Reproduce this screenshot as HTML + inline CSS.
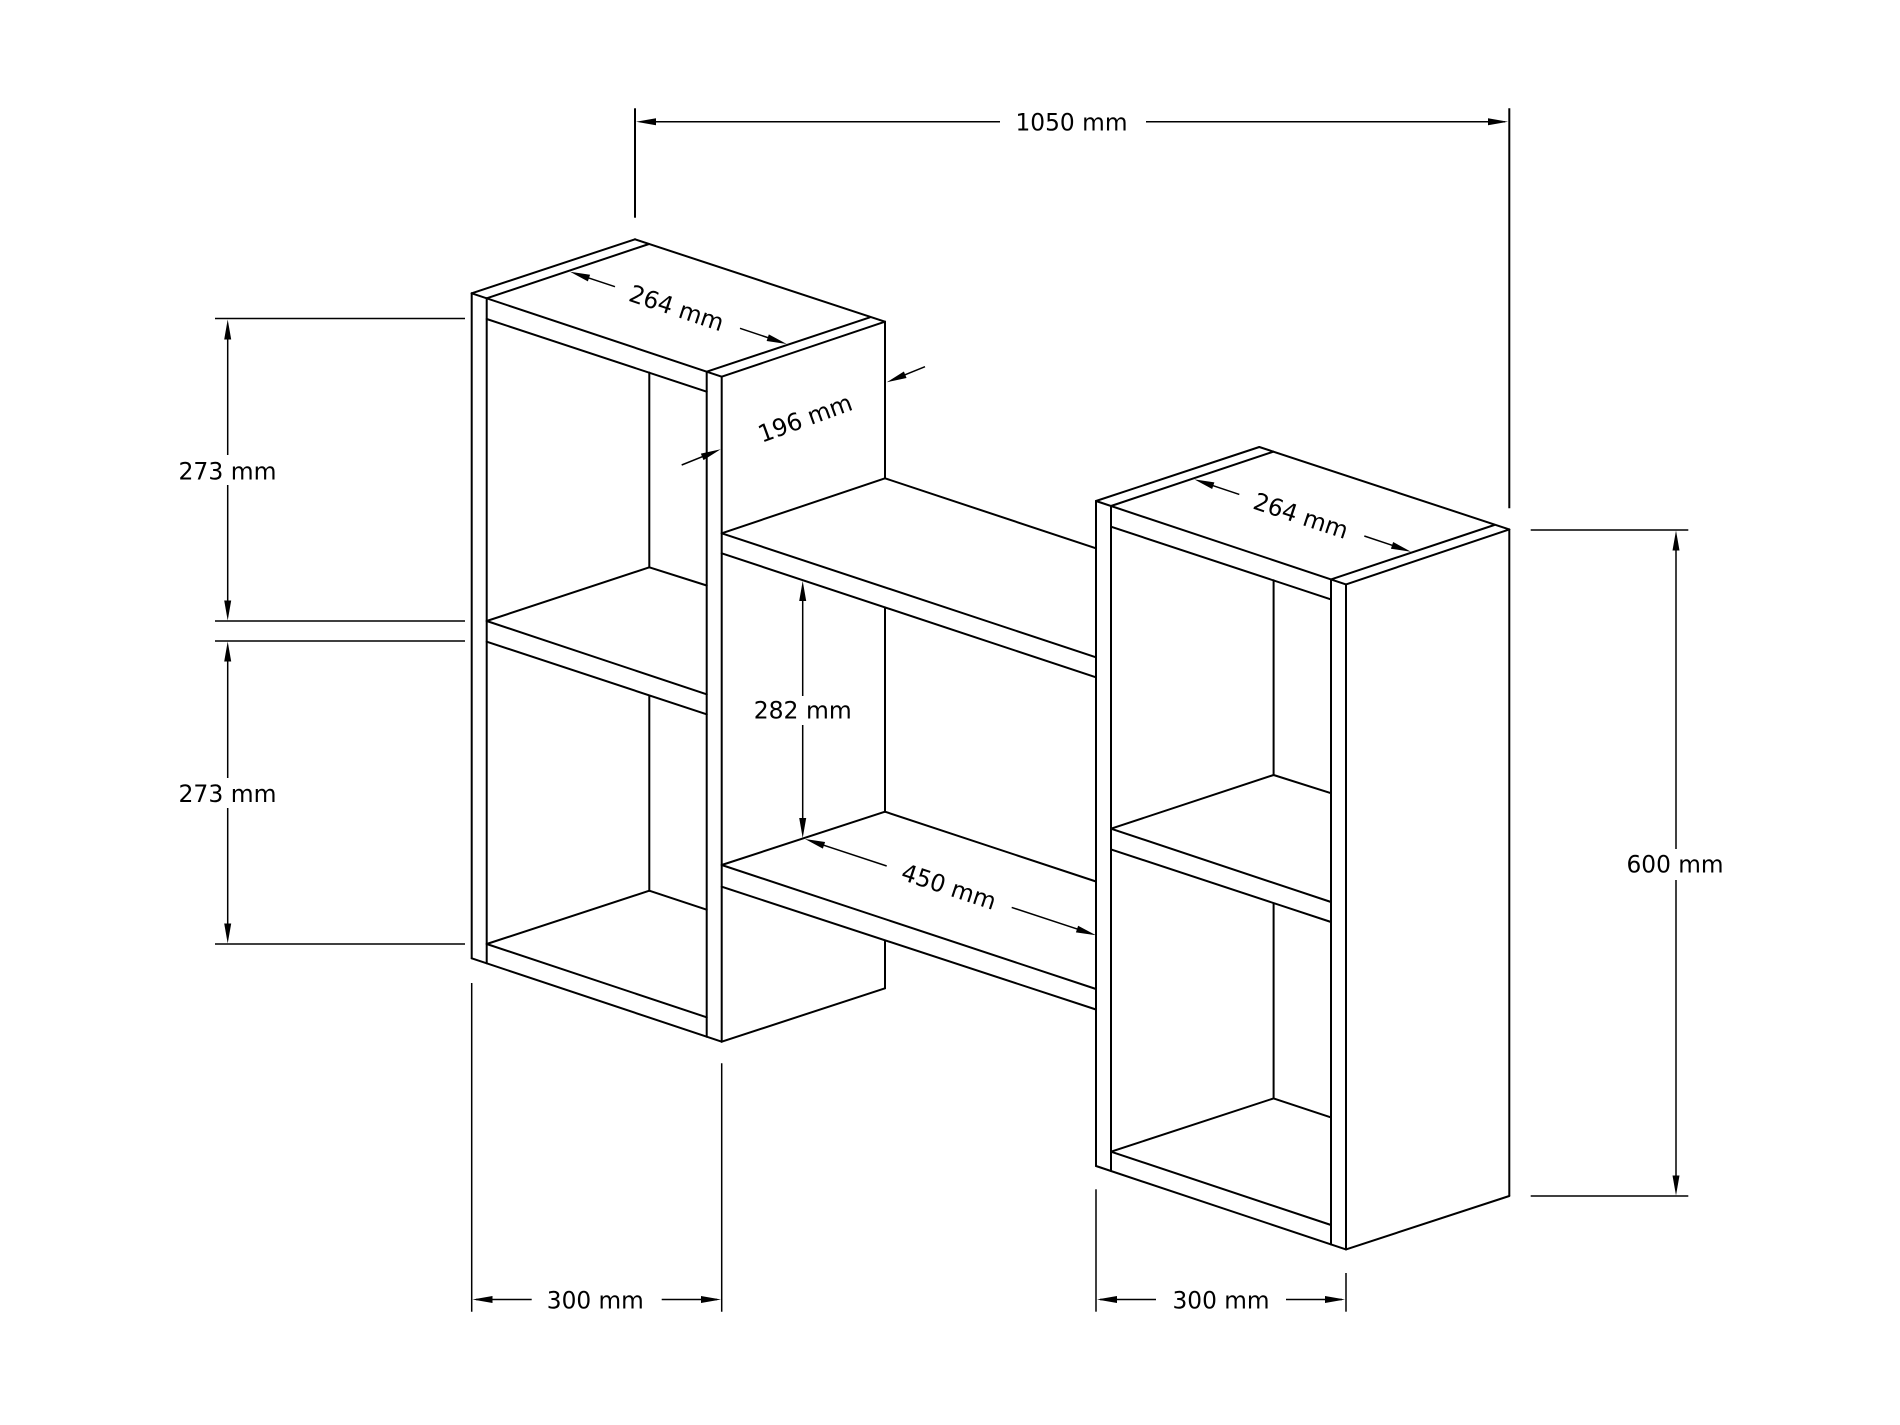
<!DOCTYPE html>
<html>
<head>
<meta charset="utf-8">
<style>
  html, body { margin: 0; padding: 0; background: #ffffff; }
  svg { display: block; }
  text { font-family: "DejaVu Sans", "Liberation Sans", sans-serif; font-size: 24px; fill: #000; }
</style>
</head>
<body>
<svg width="1900" height="1425" viewBox="0 0 1900 1425" xmlns="http://www.w3.org/2000/svg">
  <rect width="1900" height="1425" fill="#fff"/>
  <defs>
    <g id="cab" stroke="#000" stroke-width="2" fill="none" stroke-linecap="round">
      <!-- top -->
      <line x1="471.7" y1="293.3" x2="635" y2="239.3"/>
      <line x1="635" y1="239.3" x2="885" y2="321.7"/>
      <line x1="885" y1="321.7" x2="721.7" y2="376.7"/>
      <line x1="471.7" y1="293.3" x2="721.7" y2="376.7"/>
      <line x1="486.7" y1="298.3" x2="649" y2="244"/>
      <line x1="706.7" y1="371.7" x2="870" y2="317.3"/>
      <!-- verticals -->
      <line x1="471.7" y1="293.3" x2="471.7" y2="958.3"/>
      <line x1="486.7" y1="298.3" x2="486.7" y2="963.3"/>
      <line x1="706.7" y1="371.7" x2="706.7" y2="1036.7"/>
      <line x1="721.7" y1="376.7" x2="721.7" y2="1041.7"/>
      <!-- bottom -->
      <line x1="471.7" y1="958.3" x2="721.7" y2="1041.7"/>
      <line x1="721.7" y1="1041.7" x2="885" y2="988.3"/>
      <!-- interior -->
      <line x1="486.7" y1="319" x2="706.7" y2="391.7"/>
      <line x1="649.3" y1="372.6" x2="649.3" y2="567.3"/>
      <line x1="486.7" y1="621" x2="706.7" y2="694.3"/>
      <line x1="486.7" y1="641.7" x2="706.7" y2="714.3"/>
      <line x1="486.7" y1="621" x2="649.3" y2="567.3"/>
      <line x1="649.3" y1="567.3" x2="706.7" y2="585.5"/>
      <line x1="649.3" y1="695.9" x2="649.3" y2="890.7"/>
      <line x1="486.7" y1="944" x2="706.7" y2="1017.3"/>
      <line x1="486.7" y1="944" x2="649.3" y2="890.7"/>
      <line x1="649.3" y1="890.7" x2="706.7" y2="909.7"/>
    </g>
  </defs>

  <!-- left cabinet -->
  <use href="#cab"/>
  <g stroke="#000" stroke-width="2" fill="none" stroke-linecap="round">
    <line x1="885" y1="321.7" x2="885" y2="478.3"/>
    <line x1="885" y1="607.5" x2="885" y2="811.7"/>
    <line x1="885" y1="941.4" x2="885" y2="988.3"/>
  </g>

  <!-- right cabinet -->
  <use href="#cab" transform="translate(624.3,207.7)"/>
  <line x1="1509.3" y1="529.4" x2="1509.3" y2="1196" stroke="#000" stroke-width="2"/>

  <!-- connecting shelves -->
  <g stroke="#000" stroke-width="2" fill="none" stroke-linecap="round">
    <line x1="721.7" y1="533.3" x2="885" y2="478.3"/>
    <line x1="885" y1="478.3" x2="1096" y2="548.3"/>
    <line x1="721.7" y1="533.3" x2="1096" y2="657.3"/>
    <line x1="721.7" y1="553.3" x2="1096" y2="677.3"/>
    <line x1="721.7" y1="865" x2="885" y2="811.7"/>
    <line x1="885" y1="811.7" x2="1096" y2="881.5"/>
    <line x1="721.7" y1="865" x2="1096" y2="989"/>
    <line x1="721.7" y1="886.7" x2="1096" y2="1009.5"/>
  </g>

  <!-- dimension lines -->
  <g stroke="#000" stroke-width="1.5" fill="none">
    <!-- 1050 -->
    <line x1="635" y1="108.3" x2="635" y2="217.7" stroke-width="2"/>
    <line x1="1509.3" y1="108.3" x2="1509.3" y2="508.3" stroke-width="2"/>
    <line x1="640" y1="121.7" x2="1000" y2="121.7"/>
    <line x1="1146" y1="121.7" x2="1505" y2="121.7"/>
    <!-- 273 ext -->
    <line x1="215" y1="318.5" x2="465" y2="318.5"/>
    <line x1="215" y1="621" x2="465" y2="621"/>
    <line x1="215" y1="641" x2="465" y2="641"/>
    <line x1="215" y1="944" x2="465" y2="944"/>
    <line x1="227.7" y1="325" x2="227.7" y2="455"/>
    <line x1="227.7" y1="485" x2="227.7" y2="615"/>
    <line x1="227.7" y1="647" x2="227.7" y2="778"/>
    <line x1="227.7" y1="808" x2="227.7" y2="938"/>
    <!-- 282 -->
    <line x1="802.7" y1="586" x2="802.7" y2="696"/>
    <line x1="802.7" y1="725" x2="802.7" y2="833"/>
    <!-- 450 -->
    <line x1="810" y1="840.7" x2="886.7" y2="866"/>
    <line x1="1011.7" y1="907.4" x2="1091" y2="933.6"/>
    <!-- 264 left -->
    <line x1="575" y1="273.4" x2="615" y2="286.7"/>
    <line x1="740" y1="328.3" x2="781" y2="342"/>
    <!-- 264 right -->
    <line x1="1199.3" y1="481.1" x2="1239.3" y2="494.4"/>
    <line x1="1364.3" y1="536" x2="1405.3" y2="549.7"/>
    <!-- 196 -->
    <line x1="925" y1="366.7" x2="892" y2="380.1"/>
    <line x1="681.7" y1="465" x2="715" y2="451.6"/>
    <!-- 600 -->
    <line x1="1530.7" y1="530" x2="1688.3" y2="530"/>
    <line x1="1530.7" y1="1196" x2="1688.3" y2="1196"/>
    <line x1="1676" y1="536" x2="1676" y2="849"/>
    <line x1="1676" y1="880" x2="1676" y2="1190"/>
    <!-- 300 left -->
    <line x1="471.7" y1="983" x2="471.7" y2="1311.7"/>
    <line x1="721.7" y1="1063.3" x2="721.7" y2="1311.7"/>
    <line x1="476" y1="1299.5" x2="531.7" y2="1299.5"/>
    <line x1="661.7" y1="1299.5" x2="717" y2="1299.5"/>
    <!-- 300 right -->
    <line x1="1096" y1="1189.3" x2="1096" y2="1311.7"/>
    <line x1="1346" y1="1273" x2="1346" y2="1311.7"/>
    <line x1="1100" y1="1299.5" x2="1156" y2="1299.5"/>
    <line x1="1286" y1="1299.5" x2="1342" y2="1299.5"/>
  </g>

  <!-- arrowheads -->
  <g fill="#000" stroke="none">
    <polygon points="636,121.7 656,118.2 656,125.2"/>
    <polygon points="1508,121.7 1488,118.2 1488,125.2"/>
    <polygon points="227.7,319.5 224.2,339.5 231.2,339.5"/>
    <polygon points="227.7,620.5 224.2,600.5 231.2,600.5"/>
    <polygon points="227.7,641.5 224.2,661.5 231.2,661.5"/>
    <polygon points="227.7,943.5 224.2,923.5 231.2,923.5"/>
    <polygon points="802.7,581 799.2,601 806.2,601"/>
    <polygon points="802.7,838 799.2,818 806.2,818"/>
    <polygon points="805,839 825.09,841.96 822.89,848.6"/>
    <polygon points="1096,935.3 1078.11,925.7 1075.91,932.34"/>
    <polygon points="570,271.7 590.08,274.7 587.86,281.34"/>
    <polygon points="786.7,344 768.84,334.36 766.62,341.0"/>
    <polygon points="1194.3,479.4 1214.38,482.4 1212.16,489.04"/>
    <polygon points="1411,551.7 1393.14,542.06 1390.92,548.7"/>
    <polygon points="886.7,382.3 903.9,371.52 906.54,378.0"/>
    <polygon points="720.7,449.3 703.5,460.08 700.86,453.6"/>
    <polygon points="1676,530.5 1672.5,550.5 1679.5,550.5"/>
    <polygon points="1676,1195.5 1672.5,1175.5 1679.5,1175.5"/>
    <polygon points="472.5,1299.5 492.5,1296 492.5,1303"/>
    <polygon points="721,1299.5 701,1296 701,1303"/>
    <polygon points="1097,1299.5 1117,1296 1117,1303"/>
    <polygon points="1345,1299.5 1325,1296 1325,1303"/>
  </g>

  <!-- labels -->
  <text x="1071.5" y="130.4" text-anchor="middle" textLength="112" lengthAdjust="spacingAndGlyphs">1050 mm</text>
  <text x="227.5" y="479.4" text-anchor="middle" textLength="98" lengthAdjust="spacingAndGlyphs">273 mm</text>
  <text x="227.5" y="802" text-anchor="middle" textLength="98" lengthAdjust="spacingAndGlyphs">273 mm</text>
  <text x="802.7" y="718.7" text-anchor="middle" textLength="98" lengthAdjust="spacingAndGlyphs">282 mm</text>
  <text x="1675" y="872.7" text-anchor="middle" textLength="97" lengthAdjust="spacingAndGlyphs">600 mm</text>
  <text x="595.3" y="1308.7" text-anchor="middle" textLength="97" lengthAdjust="spacingAndGlyphs">300 mm</text>
  <text x="1221" y="1308.7" text-anchor="middle" textLength="97" lengthAdjust="spacingAndGlyphs">300 mm</text>
  <g transform="translate(676.7,307.8) rotate(18.4)">
    <text x="0" y="8.6" text-anchor="middle" textLength="98" lengthAdjust="spacingAndGlyphs">264 mm</text>
  </g>
  <g transform="translate(1301,515.5) rotate(18.4)">
    <text x="0" y="8.6" text-anchor="middle" textLength="98" lengthAdjust="spacingAndGlyphs">264 mm</text>
  </g>
  <g transform="translate(949,886.5) rotate(18.3)">
    <text x="0" y="8.6" text-anchor="middle" textLength="98" lengthAdjust="spacingAndGlyphs">450 mm</text>
  </g>
  <g transform="translate(805,418) rotate(-20)">
    <text x="0" y="8.6" text-anchor="middle" textLength="98" lengthAdjust="spacingAndGlyphs">196 mm</text>
  </g>
</svg>
</body>
</html>
